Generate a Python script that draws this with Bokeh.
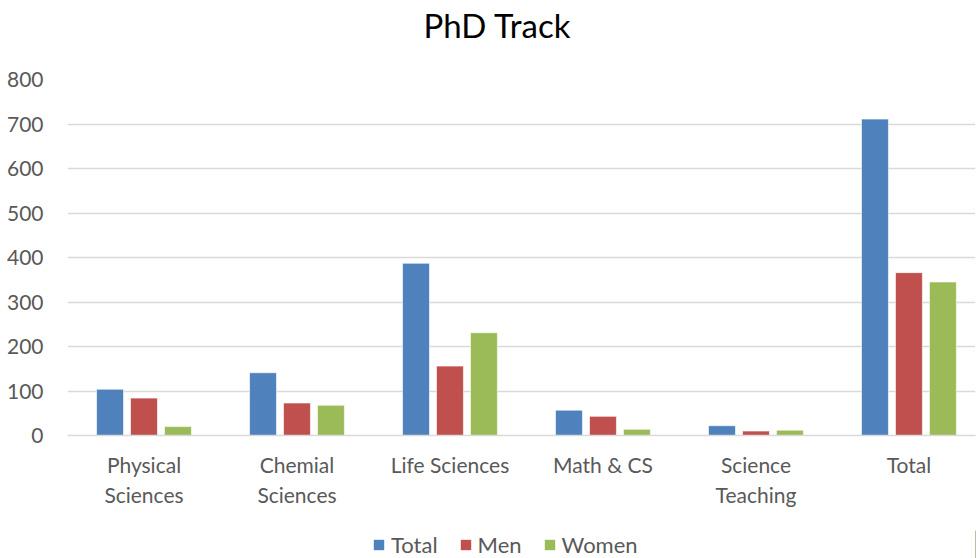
from bokeh.plotting import figure
from bokeh.layouts import column
from bokeh.models import Legend, LegendItem, ColumnDataSource, Label, Range1d, FixedTicker
from bokeh.transform import dodge
from bokeh.embed import file_html
from bokeh.resources import INLINE

categories = ["Physical\nSciences", "Chemial\nSciences", "Life Sciences", "Math & CS", "Science\nTeaching", "Total"]
total = [104, 141, 387, 57, 22, 711]
men = [84, 73, 156, 43, 10, 366]
women = [20, 68, 231, 14, 12, 345]
series_names = ["Total", "Men", "Women"]
series_colors = ["#4F81BD", "#C0504D", "#9BBB59"]
y_ticks = [0, 100, 200, 300, 400, 500, 600, 700, 800]
title_text = "PhD Track"

FONT = "Lato"
GREY = "#595959"


def strip(h):
    f = figure(width=976, height=h, output_backend="svg", toolbar_location=None,
               min_border=0, x_range=(0, 1), y_range=(0, 1),
               x_axis_location=None, y_axis_location=None)
    f.grid.grid_line_color = None
    f.outline_line_color = None
    return f


# title strip
t = strip(50)
t.add_layout(Label(x=430, y=26, x_units="screen", y_units="screen", text=title_text,
                   text_align="center", text_baseline="alphabetic", text_font=FONT,
                   text_font_size="33px", text_color="#000000"))

# main chart (categories placed at the centres of unit-wide slots)
xpos = [i + 0.5 for i in range(len(categories))]
source = ColumnDataSource(data=dict(x=xpos, Total=total, Men=men, Women=women))

p = figure(width=976, height=480, x_range=Range1d(0, 5.935), y_range=(0, 800),
           output_backend="svg", toolbar_location=None,
           min_border_left=67, min_border_right=1, min_border_top=29, min_border_bottom=95)

offsets = [-0.222, 0.0, 0.222]
for name, color, off in zip(series_names, series_colors, offsets):
    p.vbar(x=dodge("x", off), top=name, width=0.176, source=source,
           fill_color=color, line_color="white", line_alpha=0.6, line_width=1)

p.outline_line_color = None
p.xgrid.grid_line_color = None
p.ygrid.grid_line_color = "#D9D9D9"
p.ygrid.grid_line_width = 1.5

p.yaxis.ticker = y_ticks
p.yaxis.axis_line_color = None
p.yaxis.major_tick_line_color = None
p.yaxis.minor_tick_line_color = None
p.yaxis.major_label_text_color = GREY
p.yaxis.major_label_text_font = FONT
p.yaxis.major_label_text_font_size = "21px"
p.yaxis.major_label_standoff = 18

p.xaxis.ticker = FixedTicker(ticks=xpos, minor_ticks=[])
p.xaxis.major_label_overrides = {x: c for x, c in zip(xpos, categories)}
p.xaxis.axis_line_color = "#D9D9D9"
p.xaxis.axis_line_width = 1.5
p.xaxis.major_tick_line_color = None
p.xaxis.minor_tick_line_color = None
p.xaxis.major_label_text_color = GREY
p.xaxis.major_label_text_font = FONT
p.xaxis.major_label_text_font_size = "21px"
p.xaxis.major_label_standoff = 10

# legend strip
lg = strip(28)
offview = ColumnDataSource(data=dict(x=[5], top=[1]))
dummies = [lg.vbar(x="x", top="top", width=0.1, source=offview, fill_color=c, line_color=None)
           for c in series_colors]
legend = Legend(items=[LegendItem(label=n, renderers=[r]) for n, r in zip(series_names, dummies)],
                orientation="horizontal", location=(305, 0), border_line_color=None,
                background_fill_alpha=0, label_text_font=FONT, label_text_font_size="22px",
                label_text_color=GREY, glyph_width=13, glyph_height=13, spacing=21,
                padding=0, margin=0, label_standoff=6)
lg.add_layout(legend, "center")

layout = column(t, p, lg, spacing=0)
open("out.html", "w").write(file_html(layout, INLINE))
